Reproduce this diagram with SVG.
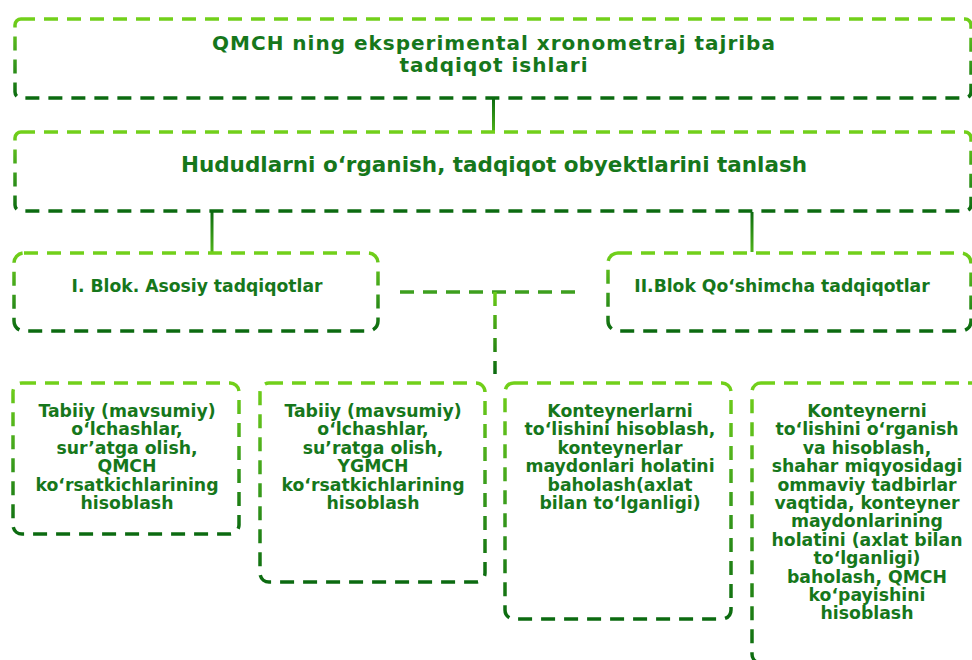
<svg xmlns="http://www.w3.org/2000/svg" width="972" height="660" viewBox="0 0 972 660">
<defs>
<linearGradient id="gb" x1="0" y1="0" x2="0" y2="1">
<stop offset="0" stop-color="#72d01a"/>
<stop offset="0.5" stop-color="#3c9f1c"/>
<stop offset="1" stop-color="#0b6a10"/>
</linearGradient>
<linearGradient id="gc" x1="0" y1="0" x2="0" y2="1">
<stop offset="0" stop-color="#0d6b10"/>
<stop offset="1" stop-color="#4fb41a"/>
</linearGradient>
<linearGradient id="gv" gradientUnits="userSpaceOnUse" x1="0" y1="292" x2="0" y2="374">
<stop offset="0" stop-color="#6ccc18"/>
<stop offset="1" stop-color="#0b6a10"/>
</linearGradient>
</defs>
<style>
.box{fill:#ffffff;stroke:url(#gb);stroke-width:3.5;stroke-dasharray:14 9;}
.t{font-family:"DejaVu Sans","Liberation Sans",sans-serif;font-weight:bold;fill:#16771b;text-anchor:middle;}
.ttl{font-size:20px;letter-spacing:1px;}
.big{font-size:21.5px;}
.mid{font-size:17.2px;}
.sm{font-size:17.3px;}
</style>
<rect width="972" height="660" fill="#ffffff"/>
<g id="connectors">
<rect x="492" y="99" width="3" height="33" fill="url(#gc)"/>
<rect x="210.5" y="212" width="3" height="40" fill="url(#gc)"/>
<rect x="750.5" y="212" width="3" height="40" fill="url(#gc)"/>
<path d="M400 292 H584" fill="none" stroke="#3d9f1e" stroke-width="3.5" stroke-dasharray="14 9"/>
<path d="M495 292 V374" fill="none" stroke="url(#gv)" stroke-width="3.5" stroke-dasharray="14 9"/>
</g>
<g id="n-title">
<rect class="box" x="15" y="19" width="956" height="79" rx="6"/>
<text class="t ttl" x="494" y="50">QMCH ning eksperimental xronometraj tajriba</text>
<text class="t ttl" x="494" y="72">tadqiqot ishlari</text>
</g>
<g id="n-hudud">
<rect class="box" x="15" y="132" width="956" height="79" rx="6"/>
<text class="t big" x="494" y="172">Hududlarni o‘rganish, tadqiqot obyektlarini tanlash</text>
</g>
<g id="n-blok1">
<rect class="box" x="14" y="253" width="364" height="78" rx="10"/>
<text class="t mid" x="197" y="292">I. Blok. Asosiy tadqiqotlar</text>
</g>
<g id="n-blok2">
<rect class="box" x="608" y="253" width="363" height="78" rx="10"/>
<text class="t mid" x="782" y="292">II.Blok Qo‘shimcha tadqiqotlar</text>
</g>
<g id="n-a">
<rect class="box" x="13" y="383" width="226" height="151" rx="9"/>
<text class="t sm" x="127" y="417">Tabiiy (mavsumiy)</text>
<text class="t sm" x="127" y="435.4">o‘lchashlar,</text>
<text class="t sm" x="127" y="453.8">sur’atga olish,</text>
<text class="t sm" x="127" y="472.2">QMCH</text>
<text class="t sm" x="127" y="490.6">ko‘rsatkichlarining</text>
<text class="t sm" x="127" y="509">hisoblash</text>
</g>
<g id="n-b">
<rect class="box" x="260" y="383" width="225" height="199" rx="9"/>
<text class="t sm" x="373" y="417">Tabiiy (mavsumiy)</text>
<text class="t sm" x="373" y="435.4">o‘lchashlar,</text>
<text class="t sm" x="373" y="453.8">su’ratga olish,</text>
<text class="t sm" x="373" y="472.2">YGMCH</text>
<text class="t sm" x="373" y="490.6">ko‘rsatkichlarining</text>
<text class="t sm" x="373" y="509">hisoblash</text>
</g>
<g id="n-c">
<rect class="box" x="505" y="383" width="226" height="236" rx="9"/>
<text class="t sm" x="620" y="417">Konteynerlarni</text>
<text class="t sm" x="620" y="435.4">to‘lishini hisoblash,</text>
<text class="t sm" x="620" y="453.8">konteynerlar</text>
<text class="t sm" x="620" y="472.2">maydonlari holatini</text>
<text class="t sm" x="620" y="490.6">baholash(axlat</text>
<text class="t sm" x="620" y="509">bilan to‘lganligi)</text>
</g>
<g id="n-d">
<rect class="box" x="752" y="383" width="240" height="280" rx="9"/>
<text class="t sm" x="867" y="417">Konteynerni</text>
<text class="t sm" x="867" y="435.4">to‘lishini o‘rganish</text>
<text class="t sm" x="867" y="453.8">va hisoblash,</text>
<text class="t sm" x="867" y="472.2">shahar miqyosidagi</text>
<text class="t sm" x="867" y="490.6">ommaviy tadbirlar</text>
<text class="t sm" x="867" y="509">vaqtida, konteyner</text>
<text class="t sm" x="867" y="527.4">maydonlarining</text>
<text class="t sm" x="867" y="545.8">holatini (axlat bilan</text>
<text class="t sm" x="867" y="564.2">to‘lganligi)</text>
<text class="t sm" x="867" y="582.6">baholash, QMCH</text>
<text class="t sm" x="867" y="601">ko‘payishini</text>
<text class="t sm" x="867" y="619.4">hisoblash</text>
</g>
</svg>
